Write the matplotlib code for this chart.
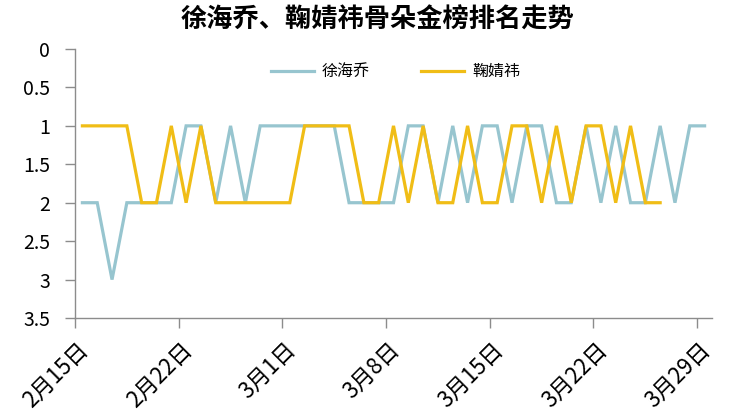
"""Ranking trend chart: 徐海乔 vs 鞠婧祎 on the 骨朵 chart."""

import matplotlib

matplotlib.use("Agg")
import matplotlib.pyplot as plt
import matplotlib.transforms as mtransforms
import numpy as np

plt.rcParams["font.family"] = ["Noto Sans CJK SC", "DejaVu Sans"]

# daily rankings starting from 2月15日
xu_haiqiao = [2, 2, 3, 2, 2, 2, 2, 1, 1, 2, 1, 2, 1, 1, 1, 1, 1, 1, 2, 2, 2, 2,
              1, 1, 2, 1, 2, 1, 1, 2, 1, 1, 2, 2, 1, 2, 1, 2, 2, 1, 2, 1, 1]
ju_jingyi = [1, 1, 1, 1, 2, 2, 1, 2, 1, 2, 2, 2, 2, 2, 2, 1, 1, 1, 1, 2, 2, 1,
             2, 1, 2, 2, 1, 2, 2, 1, 1, 2, 1, 2, 1, 1, 2, 1, 2, 2]
tick_labels = ["2月15日", "2月22日", "3月1日", "3月8日", "3月15日", "3月22日", "3月29日"]
y_ticks = [0, 0.5, 1, 1.5, 2, 2.5, 3, 3.5]
title = "徐海乔、鞠婧祎骨朵金榜排名走势"

gray = "#97c5cf"
yellow = "#f0bd16"
axis_color = "#8c8c8c"

fig = plt.figure(figsize=(7.55, 4.11), dpi=100)
ax = fig.add_axes([75 / 755, 1 - 318 / 411, (712 - 75) / 755, (318 - 49) / 411])

x_xu = np.arange(len(xu_haiqiao)) + 0.5
x_ju = np.arange(len(ju_jingyi)) + 0.5
ax.plot(x_xu, xu_haiqiao, color=gray, linewidth=2.3, label="徐海乔",
        solid_joinstyle="miter")
ax.plot(x_ju, ju_jingyi, color=yellow, linewidth=2.3, label="鞠婧祎",
        solid_joinstyle="miter")

ax.set_xlim(0, 43)
ax.set_ylim(3.5, 0)
ax.set_yticks(y_ticks)
ax.set_yticklabels([f"{v:g}" for v in y_ticks], fontsize=14)

# date labels drawn as rotated texts, shifted down/right like the original
tick_pos = np.arange(len(tick_labels)) * 7
ax.set_xticks(tick_pos)
ax.set_xticklabels([])
label_trans = ax.get_xaxis_transform() + mtransforms.ScaledTranslation(
    10 / 100, -28 / 100, fig.dpi_scale_trans)
for pos, text in zip(tick_pos, tick_labels):
    ax.text(pos, 0, text, transform=label_trans, fontsize=16, rotation=45,
            ha="right", va="center", rotation_mode="anchor", clip_on=False)

for side in ["top", "right"]:
    ax.spines[side].set_visible(False)
for side in ["left", "bottom"]:
    ax.spines[side].set_color(axis_color)
    ax.spines[side].set_linewidth(1)
ax.tick_params(axis="both", colors=axis_color, labelcolor="black",
               direction="out", length=7, width=1)
ax.tick_params(axis="y", pad=11)

ax.legend(loc="upper center", bbox_to_anchor=(0.503, 1.0), ncol=2, frameon=False,
          fontsize=11.5, handlelength=2.7, handletextpad=0.5, columnspacing=3.2)

fig.text(0.5, 1 - 20 / 411, title, ha="center", va="center", fontsize=18.9,
         fontweight="bold")

fig.savefig("out.png", dpi=100)
